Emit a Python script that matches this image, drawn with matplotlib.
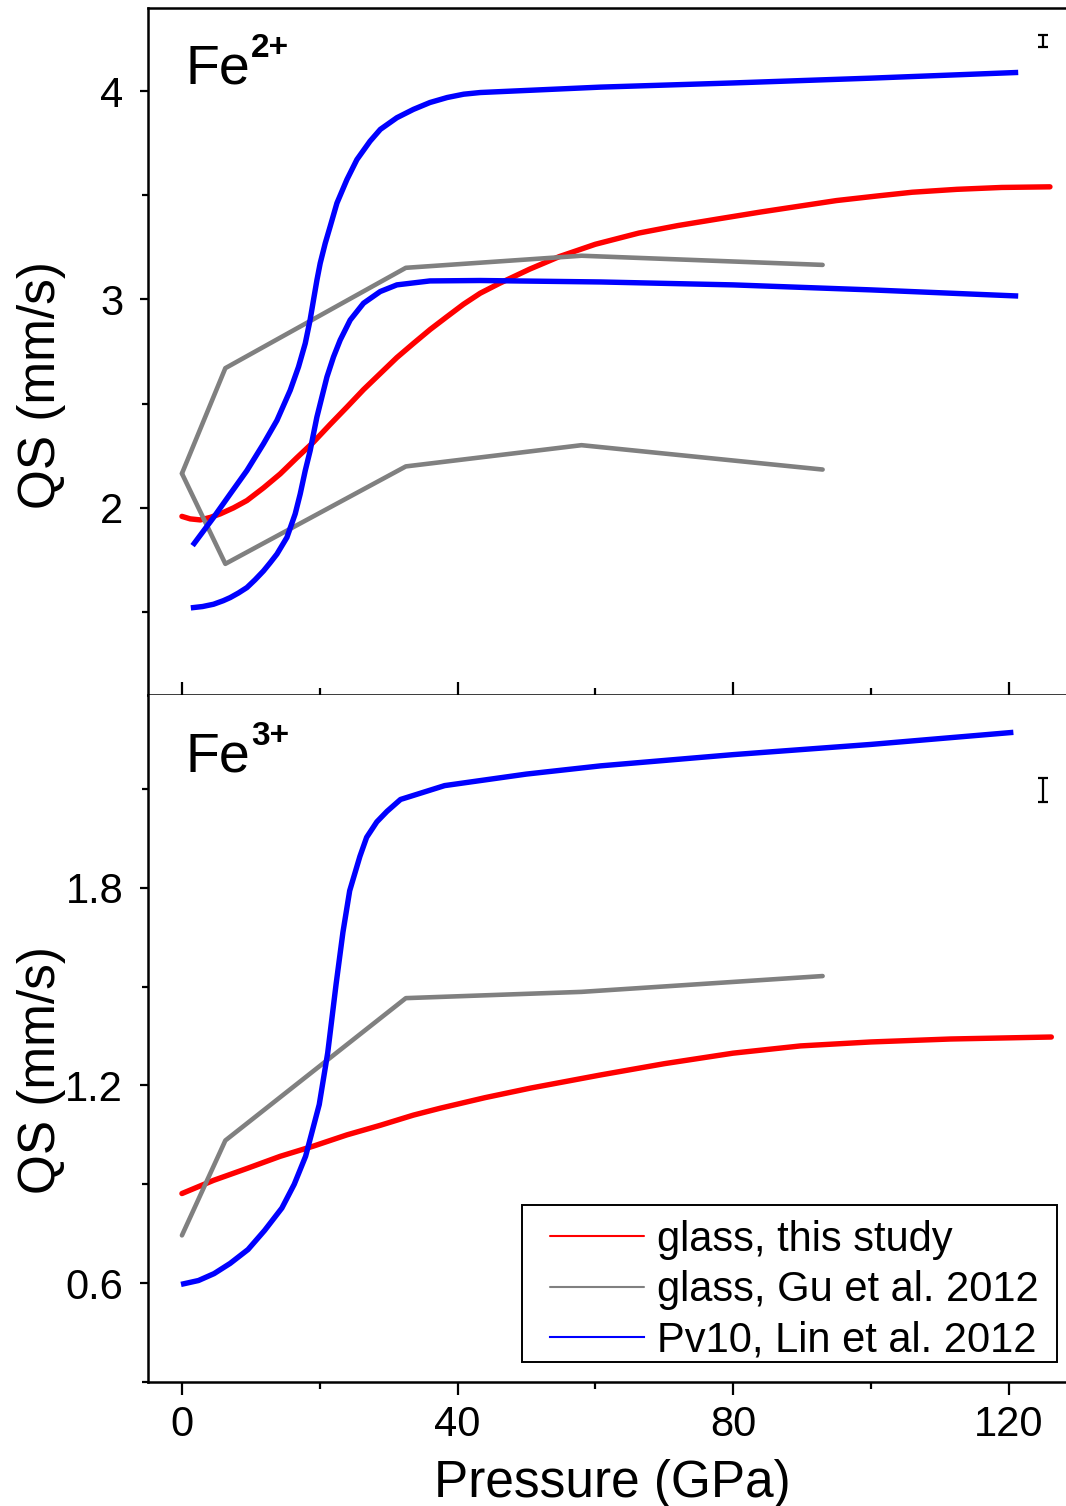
import matplotlib
matplotlib.use("Agg")
import matplotlib.pyplot as plt
from matplotlib.patches import Rectangle

plt.rcParams['font.family'] = ['Liberation Sans', 'DejaVu Sans']

# Fe2+ panel
p_red_fe2 = [0, 1.2, 2.66, 4.11, 5.56, 7.49, 9.43, 11.84, 14.26, 16.69, 19.1, 21.52,
             23.95, 26.36, 28.78, 31.2, 33.61, 36.04, 38.46, 40.87, 43.3, 46.14,
             50.5, 54.79, 60.0, 66.33, 72.0, 77.87, 84.0, 89.4, 95.0, 100.9, 106.0,
             112.5, 119.0, 126.0]
qs_red_fe2 = [1.958, 1.946, 1.941, 1.953, 1.970, 1.999, 2.034, 2.095, 2.162, 2.240,
              2.315, 2.40, 2.483, 2.567, 2.644, 2.721, 2.789, 2.856, 2.917, 2.977,
              3.030, 3.078, 3.146, 3.206, 3.265, 3.319, 3.355, 3.387, 3.42, 3.447,
              3.475, 3.497, 3.515, 3.529, 3.538, 3.541]

p_gu = [0, 6.3, 32.5, 58.0, 93.0]
qs_gu_fe2_a = [2.164, 2.67, 3.152, 3.21, 3.166]
qs_gu_fe2_b = [2.164, 1.73, 2.198, 2.30, 2.183]

p_lin_fe2_a = [1.78, 4.59, 7.01, 9.43, 11.84, 13.79, 15.72, 16.92, 17.9, 18.6, 19.1,
               19.6, 20.07, 20.8, 21.52, 22.5, 23.95, 25.4, 27.3, 28.8, 31.2, 33.6,
               36.0, 38.5, 40.9, 43.3, 60.8, 80, 100, 121]
qs_lin_fe2_a = [1.828, 1.953, 2.066, 2.178, 2.307, 2.419, 2.564, 2.676, 2.789, 2.901,
                2.998, 3.094, 3.174, 3.27, 3.351, 3.463, 3.576, 3.672, 3.76, 3.817,
                3.873, 3.913, 3.946, 3.970, 3.986, 3.994, 4.02, 4.04, 4.063, 4.09]

p_lin_fe2_b = [1.68, 3.0, 4.59, 6.0, 7.01, 8.2, 9.43, 10.6, 11.84, 12.8, 13.79, 15.24,
               16.44, 17.17, 17.9, 18.62, 19.1, 19.59, 20.32, 21.05, 22.0, 22.97,
               24.42, 26.36, 28.78, 31.2, 36.0, 43.3, 60.8, 80, 100, 121]
qs_lin_fe2_b = [1.520, 1.525, 1.536, 1.553, 1.568, 1.59, 1.616, 1.653, 1.696, 1.735,
                1.777, 1.857, 1.970, 2.066, 2.178, 2.275, 2.355, 2.435, 2.532, 2.628,
                2.724, 2.805, 2.901, 2.982, 3.038, 3.07, 3.089, 3.091, 3.084, 3.07,
                3.046, 3.017]

# Fe3+ panel
p_red_fe3 = [0, 4.59, 9.43, 14.27, 19.1, 23.95, 28.78, 33.6, 37.5, 44.0, 50.6, 60.8,
             70.0, 80, 89.8, 100, 111.6, 126.2]
qs_red_fe3 = [0.872, 0.912, 0.948, 0.985, 1.016, 1.05, 1.079, 1.11, 1.131, 1.163,
              1.192, 1.232, 1.266, 1.298, 1.32, 1.332, 1.341, 1.347]

qs_gu_fe3 = [0.745, 1.033, 1.465, 1.484, 1.532]

p_lin_fe3 = [0.25, 2.4, 4.67, 7.0, 9.59, 12.0, 14.51, 16.3, 17.95, 19.93, 21.16,
             22.38, 23.37, 24.35, 25.83, 26.81, 28.29, 29.77, 31.73, 38.13, 50,
             60.8, 80, 100, 120.3]
qs_lin_fe3 = [0.598, 0.608, 0.629, 0.66, 0.702, 0.76, 0.828, 0.9, 0.985, 1.142, 1.299,
              1.508, 1.665, 1.791, 1.895, 1.953, 2.0, 2.032, 2.068, 2.11, 2.145,
              2.17, 2.204, 2.235, 2.271]

# typical error bars
err_p = 125
err_fe2 = (4.242, 0.03)
err_fe3 = (2.097, 0.036)

red = '#FF0000'
gray = '#808080'
blue = '#0000FF'

W, H = 1066, 1506
fig = plt.figure(figsize=(W / 100, H / 100), dpi=100)
left = 147.5 / W
width = 930 / W
ax1 = fig.add_axes([left, (H - 695) / H, width, 687 / H])
ax2 = fig.add_axes([left, (H - 1382) / H, width, 687 / H])

# top panel
ax1.plot(p_red_fe2, qs_red_fe2, color=red, lw=3.9, solid_capstyle='round',
         solid_joinstyle='round')
ax1.plot(p_gu, qs_gu_fe2_a, color=gray, lw=3.3, solid_capstyle='round')
ax1.plot(p_gu, qs_gu_fe2_b, color=gray, lw=3.3, solid_capstyle='round')
ax1.plot(p_lin_fe2_a, qs_lin_fe2_a, color=blue, lw=3.9, solid_joinstyle='round')
ax1.plot(p_lin_fe2_b, qs_lin_fe2_b, color=blue, lw=3.9, solid_joinstyle='round')
ax1.errorbar([err_p], [err_fe2[0]], yerr=[err_fe2[1]], color='black',
             elinewidth=1.6, capsize=3.6, capthick=1.6)

# bottom panel
ax2.plot(p_red_fe3, qs_red_fe3, color=red, lw=3.9, label='glass, this study',
         solid_capstyle='round', solid_joinstyle='round')
ax2.plot(p_gu, qs_gu_fe3, color=gray, lw=3.3, label='glass, Gu et al. 2012',
         solid_capstyle='round')
ax2.plot(p_lin_fe3, qs_lin_fe3, color=blue, lw=3.9, label='Pv10, Lin et al. 2012',
         solid_joinstyle='round')
ax2.errorbar([err_p], [err_fe3[0]], yerr=[err_fe3[1]], color='black',
             elinewidth=1.6, capsize=3.6, capthick=1.6)

for ax in (ax1, ax2):
    ax.set_xlim(-5, 130)
    ax.set_xticks([0, 40, 80, 120])
    ax.set_xticks([20, 60, 100], minor=True)
    for s in ax.spines.values():
        s.set_linewidth(1.8)
    ax.spines['right'].set_visible(False)
    ax.tick_params(axis='y', which='major', direction='out', length=6, width=1.6,
                   labelsize=30, pad=11.5)
    ax.tick_params(axis='y', which='minor', direction='out', length=4.5, width=1.6)
    ax.set_ylabel('QS (mm/s)', fontsize=37)

ax1.set_ylim(1.1, 4.4)
ax1.set_yticks([2, 3, 4])
ax1.set_yticks([1.5, 2.5, 3.5], minor=True)
ax1.tick_params(axis='x', which='major', direction='in', length=9.5, width=1.6,
                labelbottom=False)
ax1.tick_params(axis='x', which='minor', direction='in', length=5, width=1.6)
ax1.yaxis.set_label_coords(-0.088, 0.451)

ax2.set_ylim(0.3, 2.385)
ax2.set_yticks([0.6, 1.2, 1.8])
ax2.set_yticks([0.3, 0.9, 1.5, 2.1], minor=True)
ax2.set_yticklabels(['0.6', '1.2', '1.8'])
ax2.spines['top'].set_visible(False)
ax2.tick_params(axis='x', which='major', direction='out', length=9.5, width=1.6,
                labelsize=30, pad=7)
ax2.tick_params(axis='x', which='minor', direction='out', length=5, width=1.6)
ax2.set_xlabel('Pressure (GPa)', fontsize=37, labelpad=10.5)
ax2.yaxis.set_label_coords(-0.088, 0.454)

# legend box drawn as a plain rectangle, entries placed inside it
box = Rectangle((522 / W, 1 - 1362 / H), (1057 - 522) / W, (1362 - 1205) / H,
                transform=fig.transFigure, facecolor='white', edgecolor='black',
                lw=1.4, zorder=4.5, clip_on=False)
ax2.add_patch(box)
leg = ax2.legend(loc='upper left', bbox_to_anchor=(550 / W, 1 - 1220 / H),
                 bbox_transform=fig.transFigure, fontsize=30, frameon=False,
                 handlelength=2.25, handletextpad=0.31, labelspacing=0.242,
                 borderpad=0, borderaxespad=0)
leg.set_zorder(5)
for ln in leg.get_lines():
    ln.set_linewidth(1.5)

# Fe labels
fig.text(186 / W, 1 - 84 / H, 'Fe', fontsize=40, va='baseline', ha='left')
fig.text(251 / W, 1 - 57 / H, '2+', fontsize=24, fontweight='bold',
         va='baseline', ha='left')
fig.text(186 / W, 1 - 772 / H, 'Fe', fontsize=40, va='baseline', ha='left')
fig.text(251 / W, 1 - 745 / H, '3+', fontsize=24, fontweight='bold',
         va='baseline', ha='left')

fig.savefig('out.png', dpi=100)
